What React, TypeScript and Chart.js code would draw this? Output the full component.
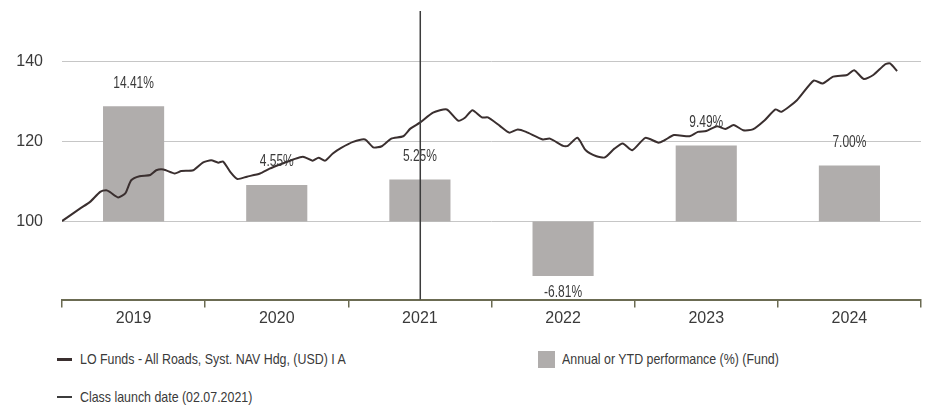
import { useEffect, useRef } from 'react';
import { Chart, registerables } from 'chart.js';

Chart.register(...registerables);

// calendar years shown on the x axis, one bar per year
const years = ['2019', '2020', '2021', '2022', '2023', '2024'];
const annualPerf = [14.41, 4.55, 5.25, -6.81, 9.49, 7.0];

// NAV path, rebased to 100; x is months since 1 Jan 2019
const navMonths = [
  0, 1.5, 2.35, 3.2, 3.7, 4.0, 4.7, 5.3, 5.8, 6.5, 7.4, 7.9, 8.5, 9.45, 10.0, 11.0, 11.8, 12.5,
  13.1, 13.5, 14.1, 14.7, 15.5, 16.6, 17.4, 18.5, 19.4, 20.2, 21.0, 21.5, 22.05, 22.7, 23.4,
  24.4, 25.4, 26.1, 26.8, 27.6, 28.6, 29.2, 30.0, 31.1, 32.25, 33.2, 33.8, 34.4, 35.2, 35.7,
  36.7, 37.5, 38.2, 38.9, 40.3, 40.9, 42.0, 42.4, 43.2, 43.9, 44.8, 45.5, 46.3, 47.0, 47.8,
  48.9, 50.0, 50.5, 51.3, 52.6, 53.3, 54.0, 54.9, 55.6, 56.3, 57.1, 57.9, 58.9, 59.8, 60.3,
  61.6, 63.0, 63.75, 64.65, 65.8, 66.4, 67.2, 68.0, 69.0, 69.4, 70.0,
];
const navValues = [
  100.1, 103.2, 104.9, 107.4, 107.8, 107.4, 106.0, 107.0, 110.3, 111.3, 111.6, 112.8, 113.0,
  112.0, 112.6, 112.8, 114.7, 115.3, 114.7, 115.0, 112.4, 110.6, 111.2, 112.0, 113.2, 114.5,
  115.5, 116.2, 115.2, 115.9, 115.2, 117.0, 118.4, 119.9, 120.5, 118.5, 118.8, 120.7, 121.3,
  123.2, 124.7, 127.2, 128.0, 125.2, 126.0, 127.8, 126.0, 126.0, 123.9, 122.2, 123.0, 122.4,
  120.5, 120.7, 118.9, 118.9, 120.9, 117.8, 116.3, 116.0, 118.2, 119.5, 117.8, 120.9, 119.7,
  120.3, 121.6, 121.3, 122.4, 122.6, 123.8, 123.1, 124.1, 122.8, 123.0, 125.3, 128.0, 127.4,
  130.3, 135.2, 134.5, 136.2, 136.6, 137.8, 135.6, 136.6, 139.3, 139.5, 137.6,
];

const yTicks = [100, 120, 140];
const launchMonth = 30.03; // 02.07.2021

const Y_MIN = 80.5;
const Y_MAX = 152.6;

const FONT = '"Liberation Sans", Arial, sans-serif';
const TEXT = '#3a3a3a';
const AXIS = '#6b6b52';
const BAR = '#b0adac';
const LINE = '#3a2f2f';

function PerfChart() {
  const canvasRef = useRef<HTMLCanvasElement>(null);

  useEffect(() => {
    if (!canvasRef.current) return;

    const chart = new Chart(canvasRef.current, {
      type: 'bar',
      data: {
        labels: years,
        datasets: [
          {
            type: 'line',
            label: 'LO Funds - All Roads, Syst. NAV Hdg, (USD) I A',
            data: navMonths.map((m, i) => ({ x: m, y: navValues[i] })),
            xAxisID: 'xm',
            yAxisID: 'y',
            borderColor: LINE,
            borderWidth: 2,
            pointRadius: 0,
            tension: 0.2,
            order: 1,
          },
          {
            type: 'bar',
            label: 'Annual or YTD performance (%) (Fund)',
            data: annualPerf,
            xAxisID: 'x',
            yAxisID: 'yPct',
            backgroundColor: BAR,
            grouped: false,
            barPercentage: 0.427,
            categoryPercentage: 1,
            order: 2,
          },
        ] as any,
      },
      options: {
        responsive: true,
        maintainAspectRatio: false,
        animation: false,
        layout: { padding: { top: 11, right: 6, bottom: 0, left: 0 } },
        plugins: {
          legend: { display: false },
          tooltip: { enabled: false },
        },
        scales: {
          x: {
            type: 'category',
            offset: true,
            grid: {
              offset: true,
              drawOnChartArea: false,
              drawTicks: true,
              tickLength: 8,
              color: AXIS,
              lineWidth: 1.5,
            },
            border: { color: AXIS, width: 2 },
            ticks: { color: TEXT, font: { family: FONT, size: 16 }, padding: 1 },
            afterFit: (scale: any) => {
              scale.height = 30.5;
              scale.paddingLeft = 0;
              scale.paddingRight = 0;
            },
          },
          xm: {
            type: 'linear',
            display: false,
            offset: false,
            grid: { offset: false },
            min: 0,
            max: 72,
          },
          y: {
            type: 'linear',
            position: 'left',
            min: Y_MIN,
            max: Y_MAX,
            afterBuildTicks: (axis: any) => {
              axis.ticks = yTicks.map((v) => ({ value: v }));
            },
            grid: { color: '#c6c6c6', lineWidth: 1, drawTicks: false },
            border: { display: false },
            ticks: { color: TEXT, font: { family: FONT, size: 16 }, padding: 19 },
            afterFit: (scale: any) => {
              scale.width = 62;
              scale.paddingTop = 0;
              scale.paddingBottom = 0;
            },
          },
          yPct: {
            type: 'linear',
            display: false,
            // same pixel scale as y: 1% = 2 index points, 0% sits on 100
            min: (Y_MIN - 100) / 2,
            max: (Y_MAX - 100) / 2,
          },
        },
      },
      plugins: [
        {
          id: 'barLabelsAndLaunch',
          afterDatasetsDraw(c: any) {
            const ctx = c.ctx;
            const meta = c.getDatasetMeta(1);
            ctx.save();
            ctx.fillStyle = TEXT;
            ctx.font = `16px ${FONT}`;
            ctx.textAlign = 'center';
            ctx.textBaseline = 'middle';
            meta.data.forEach((bar: any, i: number) => {
              const v = annualPerf[i];
              const y = v >= 0 ? bar.y - 23 : bar.y + 17;
              ctx.save();
              ctx.translate(bar.x, y);
              ctx.scale(0.75, 1); // condensed look of the original face
              ctx.fillText(`${v.toFixed(2)}%`, 0, 0);
              ctx.restore();
            });

            const lx = c.scales.xm.getPixelForValue(launchMonth);
            ctx.strokeStyle = '#3c3c3c';
            ctx.lineWidth = 1.5;
            ctx.beginPath();
            ctx.moveTo(lx, c.chartArea.top);
            ctx.lineTo(lx, c.chartArea.bottom);
            ctx.stroke();
            ctx.restore();
          },
        },
      ],
    });

    return () => {
      chart.destroy();
    };
  }, []);

  const legendText: React.CSSProperties = {
    fontSize: 14.5,
    color: TEXT,
    whiteSpace: 'nowrap',
    display: 'inline-block',
    transform: 'scaleX(0.855)',
    transformOrigin: 'left center',
  };

  return (
    <div
      style={{
        position: 'absolute',
        left: 0,
        top: 0,
        width: 927,
        height: 406,
        background: '#fff',
        fontFamily: FONT,
      }}
    >
      <div style={{ position: 'absolute', left: 0, top: 0, width: 927, height: 330 }}>
        <canvas ref={canvasRef} />
      </div>

      <div style={{ position: 'absolute', left: 57, top: 350, height: 18, display: 'flex', alignItems: 'center' }}>
        <span style={{ display: 'inline-block', width: 15, height: 3, background: LINE, marginRight: 8 }} />
        <span style={legendText}>LO Funds - All Roads, Syst. NAV Hdg, (USD) I A</span>
      </div>

      <div style={{ position: 'absolute', left: 538, top: 350, height: 18, display: 'flex', alignItems: 'center' }}>
        <span style={{ display: 'inline-block', width: 17, height: 17, background: BAR, marginRight: 7 }} />
        <span style={legendText}>Annual or YTD performance (%) (Fund)</span>
      </div>

      <div style={{ position: 'absolute', left: 57, top: 388, height: 18, display: 'flex', alignItems: 'center' }}>
        <span style={{ display: 'inline-block', width: 15, height: 1.5, background: '#3c3c3c', marginRight: 8 }} />
        <span style={legendText}>Class launch date (02.07.2021)</span>
      </div>
    </div>
  );
}

export default function App() {
  return <PerfChart />;
}
